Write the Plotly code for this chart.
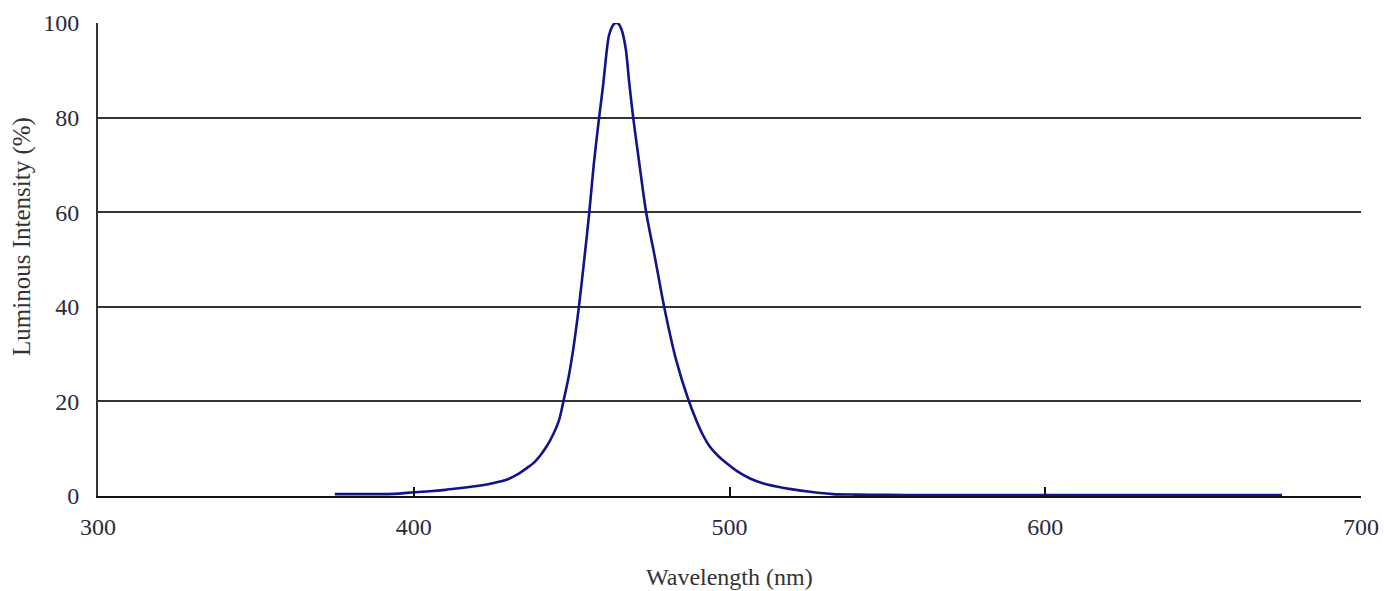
import plotly.graph_objects as go

wavelength_nm = [375, 380, 385, 390, 395, 400, 405, 410, 415, 420, 425, 430, 433, 436, 438,
                 440, 442, 444, 446, 447.4, 449, 450.5, 452.3, 454, 455.6, 457, 458.7, 460,
                 461.1, 461.8, 462.8, 463.6, 464.3, 465, 465.7, 466.3, 467.2, 468.3, 469.5,
                 471.5, 473.6, 476.5, 479.3, 483, 486.9, 489.6, 491.5, 493.8, 496.5, 499.1,
                 502.5, 506.5, 510.5, 514.9, 520, 525.5, 532.8, 540, 550, 560, 580, 600,
                 620, 640, 660, 675]
intensity_pct = [0.4, 0.4, 0.4, 0.4, 0.5, 0.8, 1.0, 1.3, 1.7, 2.1, 2.7, 3.6, 4.6, 6.0, 7.0,
                 8.5, 10.4, 12.8, 16.0, 20, 25, 31, 40, 50, 60, 70, 80, 87,
                 94.0, 97.3, 99.2, 99.9, 100, 99.7, 98.8, 97.5, 94.3, 87, 80,
                 70, 60, 50, 40, 29, 20.5, 15.8, 13, 10.4, 8.4, 6.9,
                 5.2, 3.7, 2.7, 2.0, 1.4, 0.9, 0.4, 0.3, 0.25, 0.2, 0.2, 0.2,
                 0.2, 0.2, 0.2, 0.2]

x_ticks = [300, 400, 500, 600, 700]
y_ticks = [0, 20, 40, 60, 80, 100]

FONT = "Liberation Serif"
L, R, T, B = 98, 23, 23, 95
W, H = 1384, 591
plot_w = W - L - R
plot_h = H - T - B

fig = go.Figure()
fig.add_trace(go.Scatter(
    x=wavelength_nm, y=intensity_pct, mode="lines",
    line=dict(color="#12128c", width=2.6, shape="spline", smoothing=0.8),
    showlegend=False, hoverinfo="skip",
))

fig.update_layout(
    width=W, height=H,
    margin=dict(l=L, r=R, t=T, b=B, autoexpand=False),
    paper_bgcolor="white", plot_bgcolor="white",
    font=dict(family=FONT, size=24, color="#222222"),
    xaxis=dict(
        range=[300, 700], tickvals=x_ticks, ticktext=[str(v) for v in x_ticks],
        showgrid=False, zeroline=False, automargin=False,
        showline=True, linecolor="#111111", linewidth=2,
        ticks="inside", ticklen=9, tickwidth=1.5, tickcolor="#111111",
        ticklabelstandoff=8,
        tickfont=dict(family=FONT, size=24, color="#2a2a3a"),
        fixedrange=True,
    ),
    yaxis=dict(
        range=[0, 100], tickvals=y_ticks, ticktext=[str(v) for v in y_ticks],
        showgrid=True, gridcolor="#333333", gridwidth=1.6,
        zeroline=False, automargin=False,
        showline=True, linecolor="#333333", linewidth=2,
        ticks="", ticklabelstandoff=12,
        tickfont=dict(family=FONT, size=24, color="#2a2a3a"),
        fixedrange=True,
    ),
    annotations=[
        dict(text="Wavelength (nm)", x=0.5, y=(H - B - 577) / plot_h,
             xref="paper", yref="paper", yanchor="middle",
             showarrow=False, font=dict(family=FONT, size=24, color="#333333")),
        dict(text="Luminous Intensity (%)", textangle=-90,
             x=(22 - L) / plot_w, y=(H - B - 237) / plot_h,
             xref="paper", yref="paper", xanchor="center", yanchor="middle",
             showarrow=False, font=dict(family=FONT, size=25, color="#333333")),
    ],
)

fig.write_html("out.html")
